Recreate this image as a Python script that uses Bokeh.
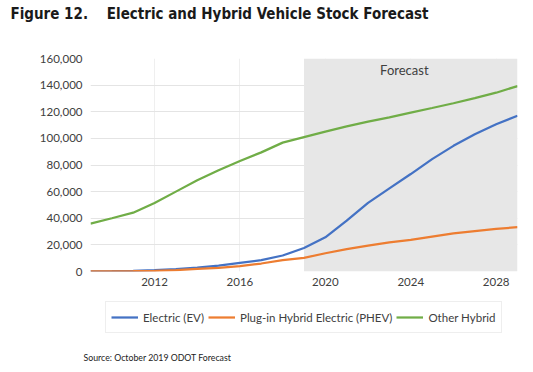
from bokeh.plotting import figure
from bokeh.models import (Range1d, FixedTicker, NumeralTickFormatter, BoxAnnotation,
                          Label, Legend, LegendItem, Title)
from bokeh.layouts import column
from bokeh.embed import file_html
from bokeh.resources import INLINE

years = list(range(2009, 2030))
electric = [100, 200, 500, 1000, 1700, 3000, 4500, 6500, 8500, 12000,
            17700, 25700, 38200, 51500, 62400, 73200, 84400, 94400, 103100, 110600, 117000]
phev = [50, 100, 200, 500, 1000, 2000, 2800, 4000, 6000, 8500,
        10200, 13700, 16800, 19500, 21800, 23700, 26200, 28700, 30400, 32000, 33300]
other_hybrid = [36000, 40000, 44200, 51500, 60000, 68500, 76000, 83000, 89500, 96800,
                101000, 105100, 109000, 112600, 115800, 119300, 122800, 126400, 130200, 134300, 139300]

x_ticks = [2012, 2016, 2020, 2024, 2028]
y_ticks = [0, 20000, 40000, 60000, 80000, 100000, 120000, 140000, 160000]
series_names = ["Electric (EV)", "Plug-in Hybrid Electric (PHEV)", "Other Hybrid"]
colors = ["#4472C4", "#ED7D31", "#70AD47"]
forecast_start = 2019

FONT = "Lato"
TXT = "#404040"

# title strip
p0 = figure(width=533, height=28, output_backend="svg", toolbar_location=None,
            x_range=Range1d(0, 1), y_range=Range1d(0, 1),
            min_border_left=90, min_border_right=16, min_border_top=0, min_border_bottom=0,
            x_axis_type=None, y_axis_type=None)
p0.outline_line_color = None
p0.grid.visible = False
p0.title.text = "Figure 12.\u00a0\u00a0\u00a0\u00a0Electric and Hybrid Vehicle Stock Forecast"
p0.title.text_font = "DejaVu Sans Condensed"
p0.title.text_font_style = "bold"
p0.title.text_font_size = "15px"
p0.title.text_color = "#1a1a1a"
p0.title.align = "left"
p0.title.offset = -80
p0.title.standoff = 4

p = figure(width=533, height=268, output_backend="svg", toolbar_location=None,
           x_range=Range1d(2009, 2029), y_range=Range1d(0, 160000),
           min_border_left=90, min_border_right=16, min_border_top=30, min_border_bottom=25)
p.outline_line_color = None
p.background_fill_color = "white"

# axes
p.xaxis.ticker = FixedTicker(ticks=x_ticks)
p.yaxis.ticker = FixedTicker(ticks=y_ticks)
p.yaxis.formatter = NumeralTickFormatter(format="0,0")
for ax in (p.xaxis[0], p.yaxis[0]):
    ax.axis_line_color = None
    ax.major_tick_line_color = None
    ax.minor_tick_line_color = None
    ax.major_tick_out = 0
    ax.major_tick_in = 0
    ax.major_label_text_font = FONT
    ax.major_label_text_font_size = "11.5px"
    ax.major_label_text_color = TXT
p.yaxis.major_label_standoff = 8
p.xaxis.major_label_standoff = 6

p.ygrid.grid_line_color = "#e4e4e4"
p.xgrid.grid_line_color = "#efefef"
p.xgrid.ticker = FixedTicker(ticks=x_ticks)

shade = BoxAnnotation(left=forecast_start, fill_color="#e7e7e7", fill_alpha=1.0,
                      line_color=None, level="underlay")
p.add_layout(shade)

p.add_layout(Label(x=2023.7, y=151000, text="Forecast", text_align="center",
                   text_baseline="middle", text_font=FONT, text_font_size="13px",
                   text_color=TXT))

for vals, c in zip([electric, phev, other_hybrid], colors):
    p.line(years, vals, line_color=c, line_width=2.25)

# legend + source panel
p2 = figure(width=533, height=76, output_backend="svg", toolbar_location=None,
            x_range=Range1d(0, 1), y_range=Range1d(0, 1),
            min_border_left=90, min_border_right=16, min_border_top=0, min_border_bottom=30,
            x_axis_type=None, y_axis_type=None)
p2.outline_line_color = None
p2.grid.visible = False
rs = [p2.line([-10, -5], [-10, -10], line_color=c, line_width=2.25) for c in colors]
legend = Legend(items=[LegendItem(label=n, renderers=[r]) for n, r in zip(series_names, rs)],
                orientation="horizontal", location=(15, 9),
                label_text_font=FONT, label_text_font_size="11.5px", label_text_color=TXT,
                border_line_color="#dedede", glyph_width=27, spacing=4,
                padding=5, margin=0, label_standoff=5)
p2.add_layout(legend)
p2.add_layout(Title(text="Source: October 2019 ODOT Forecast", align="left", offset=-7,
                    text_font=FONT, text_font_size="8.75px", text_color="#222222",
                    text_font_style="normal", standoff=14), "below")

open("out.html", "w").write(file_html(column(p0, p, p2, spacing=0), INLINE))
